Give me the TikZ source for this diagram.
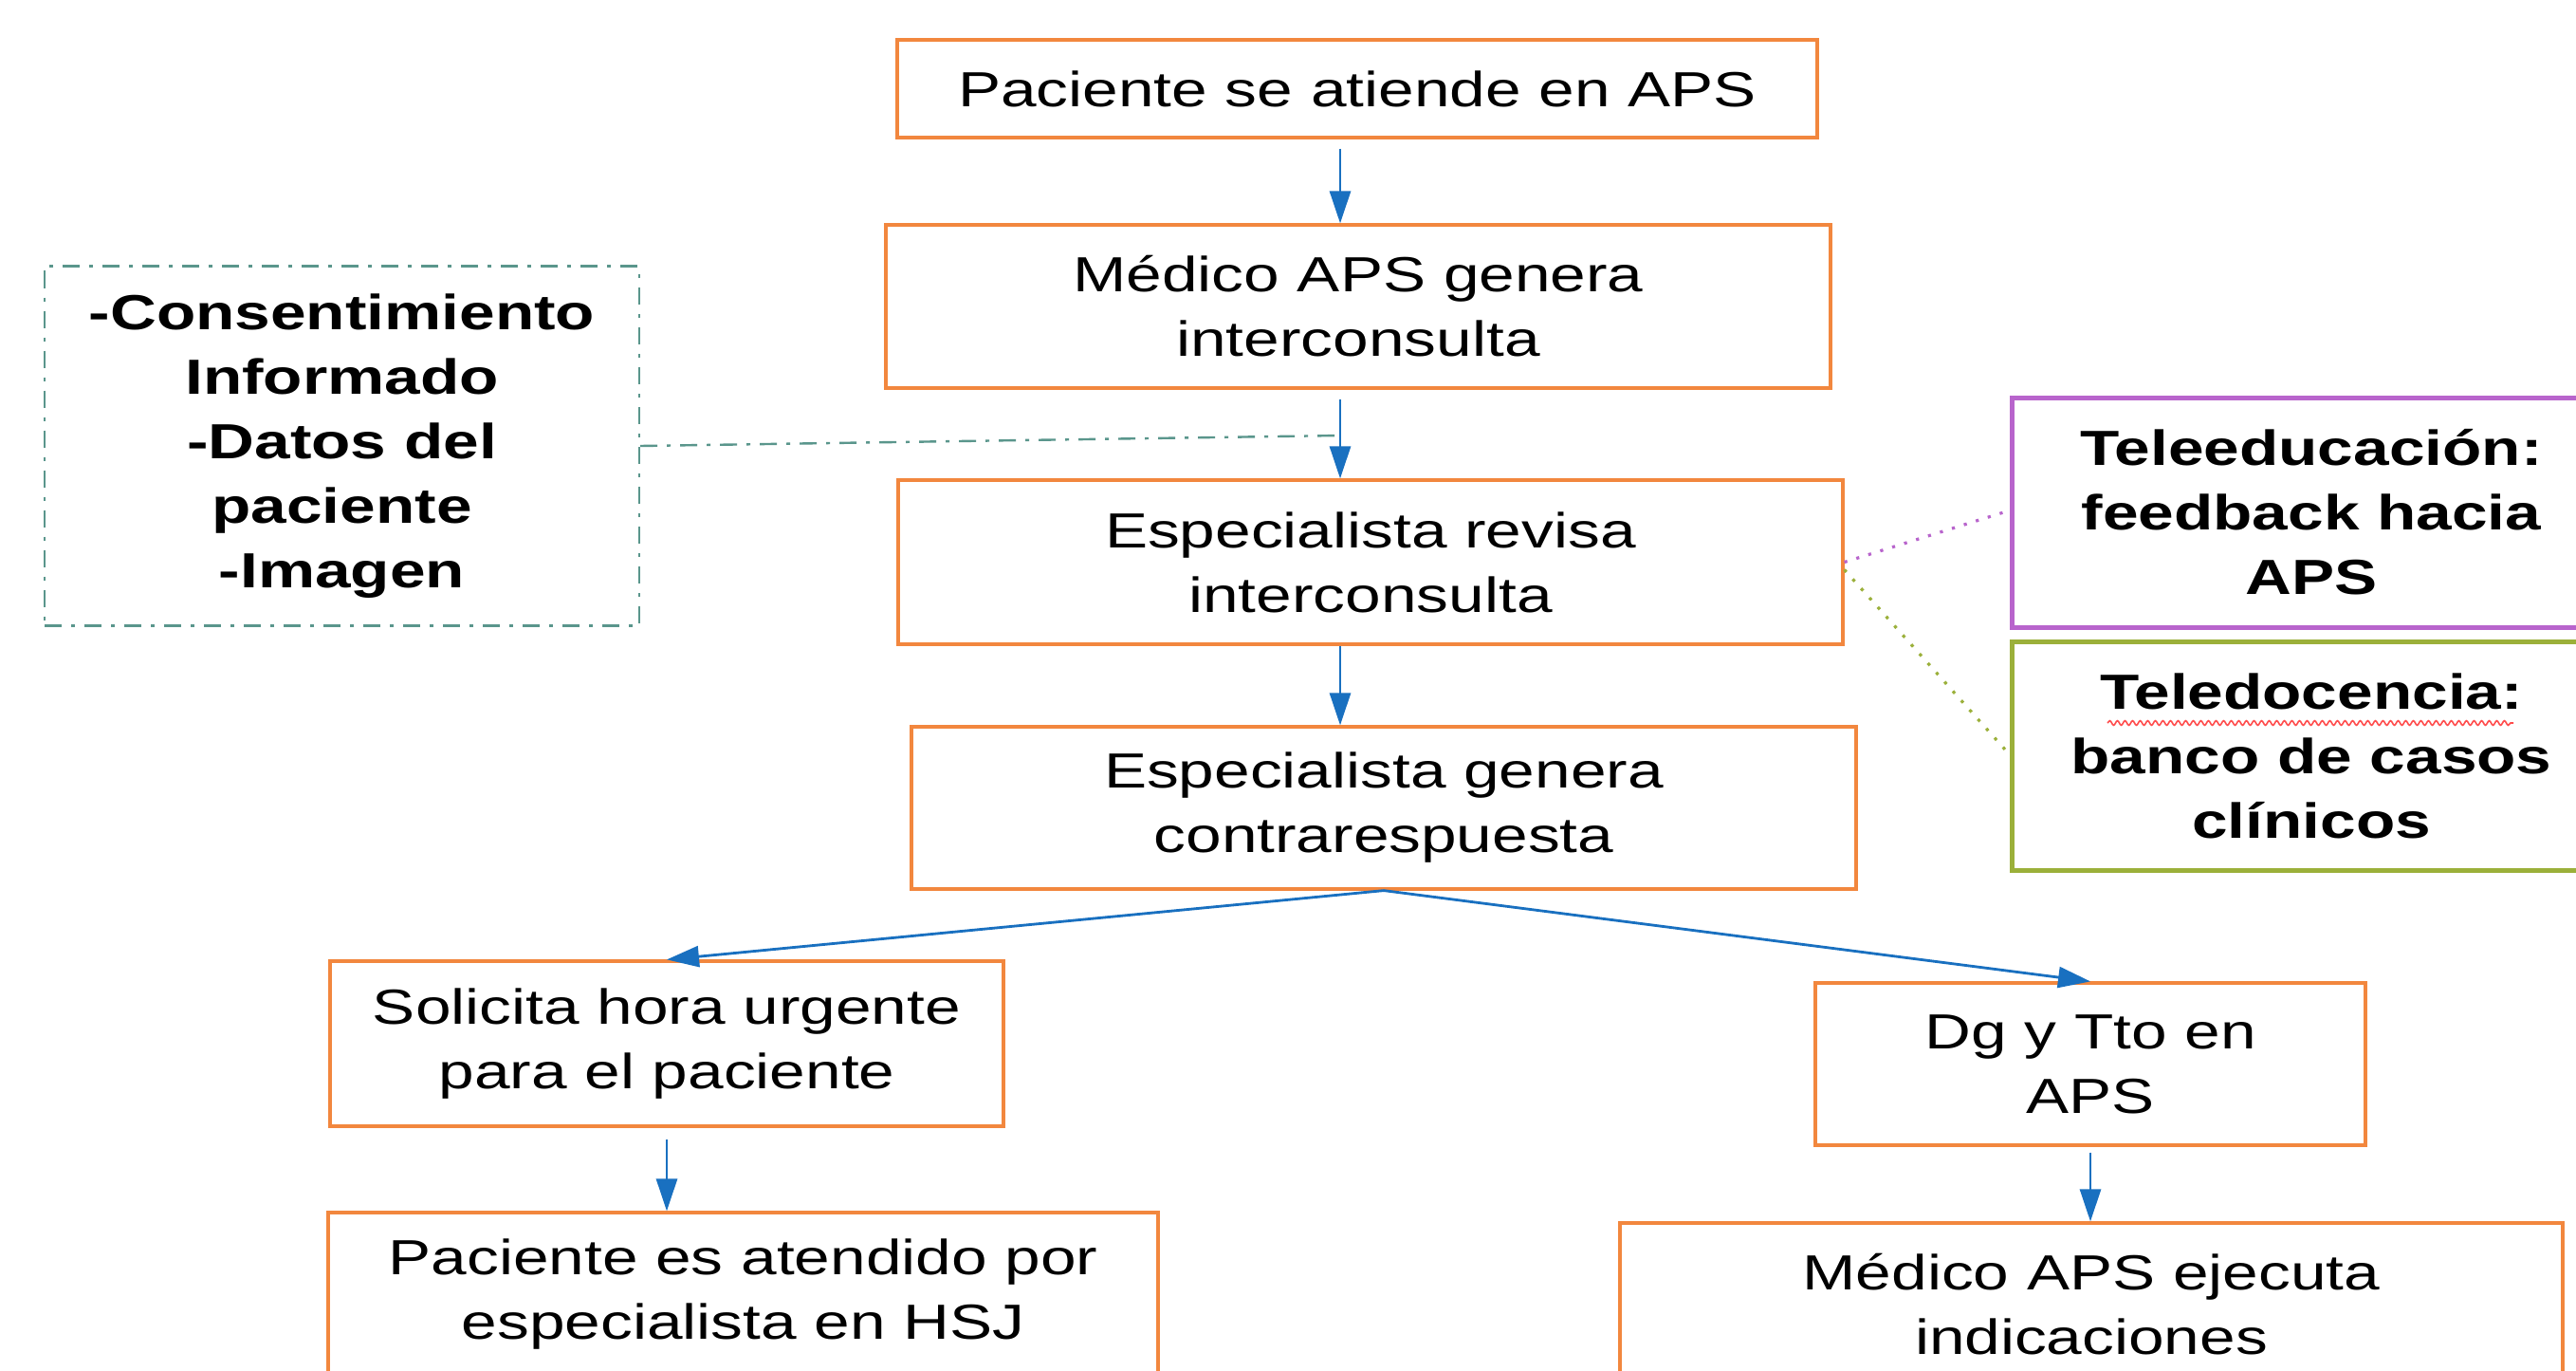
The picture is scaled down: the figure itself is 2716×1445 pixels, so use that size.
\documentclass[tikz,border=0pt]{standalone}
\usepackage{fontspec}
\setmainfont{Liberation Sans}[FakeStretch=1.3]
\usetikzlibrary{arrows.meta,decorations.pathmorphing}
\definecolor{boxorange}{RGB}{242,135,62}
\definecolor{arrblue}{RGB}{25,112,192}
\definecolor{tealgray}{RGB}{90,150,140}
\definecolor{purp}{RGB}{184,100,204}
\definecolor{olivegreen}{RGB}{155,176,58}
\tikzset{
  x=0.5pt, y=-0.5pt,
  txt/.style={font=\fontsize{26}{34}\selectfont, align=center, inner sep=2pt},
  obox/.style={txt, draw=boxorange, line width=1.6pt, rectangle},
  sidebox/.style={txt, font=\fontsize{26}{34}\selectfont\bfseries, line width=2.5pt, rectangle},
  arr/.style={draw=arrblue, line width=1.4pt, -{Triangle[length=17pt,width=11pt]}},
  tealdash/.style={draw=tealgray, line width=1.2pt, dash pattern=on 9pt off 5pt on 2pt off 5pt},
  dotline/.style={line width=1.6pt, dash pattern=on 1.6pt off 5pt}
}
\begin{document}
\begin{tikzpicture}
\clip (0,0) rectangle (2716,1445);
\fill[white] (0,0) rectangle (2716,1445);

\node[obox, minimum width=485pt, minimum height=51.5pt] (b1) at (1431,93.5) {Paciente se atiende en APS};
\node[obox, minimum width=498pt, minimum height=86pt] (b2) at (1432,323) {Médico APS genera\\interconsulta};
\node[obox, minimum width=498pt, minimum height=86.5pt] (b3) at (1445,592.5) {Especialista revisa\\interconsulta};
\node[obox, minimum width=498pt, minimum height=85.5pt] (b4) at (1459,851.5) {Especialista genera\\contrarespuesta};
\node[obox, minimum width=355pt, minimum height=87pt] (b5) at (703,1100) {Solicita hora urgente\\para el paciente};
\node[obox, minimum width=437.5pt, minimum height=86pt] (b6) at (783.5,1364) {Paciente es atendido por\\especialista en HSJ};
\node[obox, minimum width=290pt, minimum height=85.5pt] (b7) at (2204,1121.5) {Dg y Tto en\\APS};
\node[obox, minimum width=497pt, minimum height=86pt] (b8) at (2205,1375) {Médico APS ejecuta\\indicaciones};

\node[sidebox, draw=tealgray, line width=1.2pt, dash pattern=on 9pt off 5pt on 2pt off 5pt, minimum width=313.5pt, minimum height=189.5pt] (dbox) at (360.5,470) {-Consentimiento\\Informado\\-Datos del\\paciente\\-Imagen};
\node[sidebox, draw=purp, minimum width=316pt, minimum height=121pt] (pbox) at (2437,540) {Teleeducación:\\feedback hacia\\APS};
\node[sidebox, draw=olivegreen, minimum width=316pt, minimum height=120.5pt] (gbox) at (2437,796.5) {Teledocencia:\\banco de casos\\clínicos};

\coordinate (ax) at (1413,0);
\coordinate (j) at (1413,459);

\draw[arr] ([yshift=-5pt]b1.south -| ax) -- (b2.north -| ax);
\draw[arr] ([yshift=-5pt]b2.south -| ax) -- (b3.north -| ax);
\draw[arr] (b3.south -| ax) -- (b4.north -| ax);
\draw[arr] (b4.south) -- (b5.north);
\draw[arr] (b4.south) -- (b7.north);
\draw[arr] ([yshift=-6pt]b5.south) -- (b6.north -| b5.south);
\draw[arr] ([yshift=-3pt]b7.south) -- (b8.north -| b7.south);

\draw[tealdash] (dbox.east) -- (j);
\draw[dotline, draw=purp] (b3.east) -- ([xshift=-3pt]pbox.west);
\draw[dotline, draw=olivegreen] ([yshift=-4pt]b3.east) -- ([xshift=-2pt,yshift=3pt]gbox.west);

\draw[red!70, line width=0.8pt, decorate, decoration={snake, amplitude=1.2pt, segment length=4pt}] (2222,762) -- (2650,762);
\end{tikzpicture}
\end{document}
